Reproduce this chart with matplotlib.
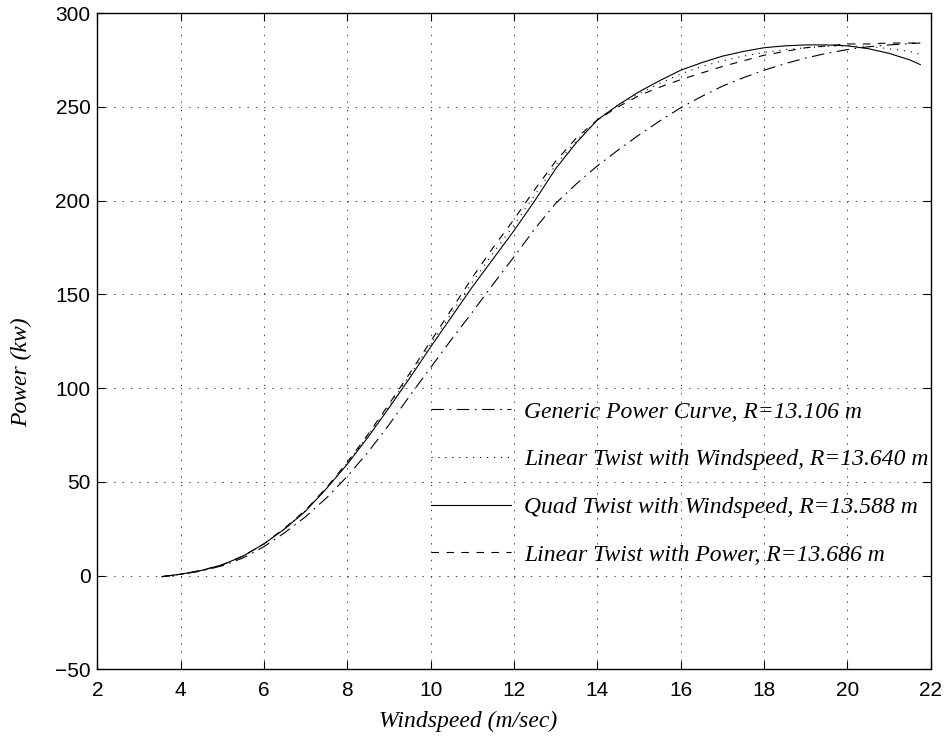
import matplotlib
matplotlib.use("Agg")
import matplotlib.pyplot as plt

wind = [3.55, 4.0, 4.5, 5.0, 5.5, 6.0, 6.5, 7.0, 7.5, 8.0, 8.5, 9.0, 9.5, 10.0,
        10.5, 11.0, 11.5, 12.0, 12.5, 13.0, 13.5, 14.0, 14.5, 15.0, 15.5, 16.0,
        16.5, 17.0, 17.5, 18.0, 18.5, 19.0, 19.5, 20.0, 20.5, 21.0, 21.5, 21.75]

generic = [-0.5, 0.7, 2.5, 5.3, 9.5, 15.5, 23, 31.5, 41.5, 53, 66, 80.5, 96, 111,
           126, 140.5, 155.5, 170, 185, 198.5, 209, 218.5, 227, 235, 242.5, 249.5,
           255.5, 261, 265.5, 269.5, 273, 276, 278.5, 280.5, 282, 283, 283.7, 284]

lin_wind = [-0.5, 0.8, 2.8, 5.8, 10.5, 17, 25.2, 34.8, 46.8, 60, 74.8, 90.5, 107, 123.5,
            140, 156.5, 172, 187, 203, 219, 232, 243, 251, 257, 262.5, 267.5,
            271.5, 274.5, 277, 279, 280.5, 281.5, 282.2, 282.5, 282.2, 281, 279.5, 278]

quad_wind = [-0.5, 0.8, 2.8, 5.8, 10.5, 17, 25, 34.5, 46.5, 59.5, 74, 89.5, 105.5, 122,
             138, 154, 169, 184, 200, 217, 231, 243, 251, 258, 264, 269.5,
             273.5, 277, 279.5, 281.5, 282.5, 283, 283, 282.5, 281, 278.5, 275, 272.5]

lin_power = [-0.5, 0.8, 2.8, 5.8, 10.5, 17, 25.5, 35, 47, 60.5, 75.5, 91.5, 108, 125,
             142, 159, 175, 190, 206, 221, 233.5, 243, 250, 256, 260.5, 264.5,
             268, 271.5, 274.5, 277.5, 279.5, 281.5, 282.5, 283.5, 283.5, 284, 284, 284]

labels = ["Generic Power Curve, R=13.106 m",
          "Linear Twist with Windspeed, R=13.640 m",
          "Quad Twist with Windspeed, R=13.588 m",
          "Linear Twist with Power, R=13.686 m"]

xticks = [2, 4, 6, 8, 10, 12, 14, 16, 18, 20, 22]
yticks = [-50, 0, 50, 100, 150, 200, 250, 300]

plt.rcParams['lines.scale_dashes'] = False
serif = ['Liberation Serif', 'DejaVu Serif']
sans = ['Liberation Sans', 'DejaVu Sans']

fig = plt.figure(figsize=(9.47, 7.36), dpi=100)
ax = fig.add_axes([0.1028, 0.0904, 0.8800, 0.8919])

lw = 0.8
ax.plot(wind, generic, color='k', lw=lw, linestyle=(0, (9.0, 4.0, 1.2, 4.0)), label=labels[0])
ax.plot(wind, lin_wind, color='k', lw=lw, linestyle=(0, (0.8, 4.2)), label=labels[1])
ax.plot(wind, quad_wind, color='k', lw=lw, linestyle='-', label=labels[2])
ax.plot(wind, lin_power, color='k', lw=lw, linestyle=(0, (5.4, 5.4)), label=labels[3])

ax.set_xlim(2, 22)
ax.set_ylim(-50, 300)
ax.set_xticks(xticks)
ax.set_yticks(yticks)
ax.set_xticklabels([str(v) for v in xticks], family=sans, fontsize=15)
ax.set_yticklabels([("\u2212" + str(-v)) if v < 0 else str(v) for v in yticks], family=sans, fontsize=15)
ax.tick_params(axis='both', direction='in', length=6, width=0.8, top=True, right=True)
ax.tick_params(axis='x', pad=8)
ax.tick_params(axis='y', pad=5)
for s in ax.spines.values():
    s.set_linewidth(1.0)

ax.grid(True, color='0.25', linestyle=(0, (1.0, 5.0)), linewidth=0.7)
ax.set_axisbelow(True)

ax.set_xlabel("Windspeed (m/sec)", family=serif, style='italic', fontsize=17)
ax.set_ylabel("Power (kw)", family=serif, style='italic', fontsize=17)
ax.xaxis.set_label_coords(0.445, -0.063)
ax.yaxis.set_label_coords(-0.078, 0.453)

leg = ax.legend(loc='upper left', bbox_to_anchor=(0.40, 0.409), frameon=False,
                prop={'family': serif, 'style': 'italic', 'size': 17},
                handlelength=3.4, handletextpad=0.55, labelspacing=1.11,
                borderpad=0, borderaxespad=0)
for t in leg.get_texts():
    t.set_clip_box(ax.bbox)
    t.set_clip_on(True)

fig.savefig("out.png", dpi=100)
